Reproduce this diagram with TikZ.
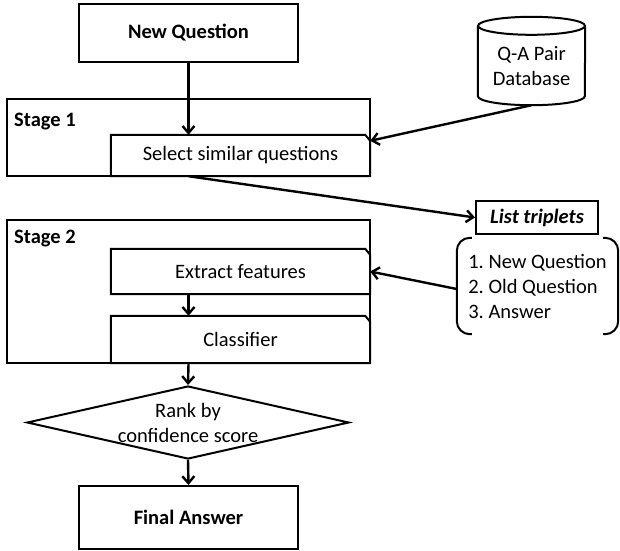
\documentclass[tikz,border=0pt]{standalone}
\usepackage{fontspec}
\setmainfont{Carlito}
\usetikzlibrary{arrows.meta,shapes.geometric,calc}

\begin{document}
\frenchspacing
\begin{tikzpicture}[x=1pt,y=-1pt,
  every node/.style={font=\fontsize{20.5}{25}\selectfont},
  box/.style={draw, line width=2pt, inner sep=0pt},
  boldtext/.style={font=\fontsize{20.5}{25}\selectfont\bfseries},
  tabbox/.style={inner sep=0pt, minimum width=259pt},
  stagelbl/.style={boldtext, inner sep=0pt, anchor=base west},
  outline/.style={line width=2pt},
  link/.style={line width=2.4pt, -{Straight Barb[length=7pt,width=12pt]}},
]
\useasboundingbox (0,0) rectangle (620,550);

% top input
\node[box, boldtext, minimum width=219pt, minimum height=58pt] (nq) at (188.5,33) {New Question};

% stage frames
\node[box, minimum width=363pt, minimum height=77pt] (stage1) at (188.5,137.5) {};
\node[box, minimum width=363pt, minimum height=143pt] (stage2) at (188.5,291.5) {};
\node[stagelbl] (s1lbl) at ($(stage1.north west)+(8,28)$) {Stage 1};
\node[stagelbl] (s2lbl) at ($(stage2.north west)+(8,24)$) {Stage 2};

% processing steps (tab-shaped boxes)
\node[tabbox, minimum height=41pt] (select) at (240.5,155.5) {Select similar questions};
\node[tabbox, minimum height=45pt] (extract) at (240.5,271.5) {Extract features};
\node[tabbox, minimum height=47pt] (classifier) at (240.5,339.5) {Classifier};
\foreach \n in {select,extract,classifier}
  \draw[outline] (\n.south west) -- (\n.north west) -- ([xshift=-5pt]\n.north east)
    -- ([yshift=-6pt]\n.north east) -- (\n.south east) -- cycle;

% database cylinder
\node[minimum width=107pt, minimum height=88pt, inner sep=0pt,
      label={[align=center,yshift=-5.5pt]center:{Q-A Pair\\Database}}] (db) at (531.5,61) {};
\draw[outline] ($(db.north)+(0,9)$) ellipse [x radius=53.5pt, y radius=9pt];
\draw[outline] ($(db.north west)+(0,9)$) -- ($(db.south west)+(0,-9)$)
  arc[start angle=180, end angle=360, x radius=53.5pt, y radius=9pt]
  -- ($(db.north east)+(0,9)$);

% triplet list
\node[box, font=\fontsize{20.5}{25}\selectfont\bfseries\itshape,
      minimum width=122pt, minimum height=33pt] (list) at (537,217.5) {List triplets};
\node[minimum width=161pt, minimum height=96pt, inner sep=0pt, align=left] (items) at (537.5,286)
  {1. New Question\\2. Old Question\\3. Answer};
\draw[outline, rounded corners=13pt] ([xshift=15pt]items.north west) -- (items.north west)
  -- (items.south west) -- ([xshift=15pt]items.south west);
\draw[outline, rounded corners=13pt] ([xshift=-15pt]items.north east) -- (items.north east)
  -- (items.south east) -- ([xshift=-15pt]items.south east);

% ranking and output
\node[draw, diamond, line width=2pt, minimum width=322pt, minimum height=73pt, inner sep=0pt,
      label={[align=center]center:{Rank by\\confidence score}}] (rank) at (188,422.5) {};
\node[box, boldtext, minimum width=219pt, minimum height=63pt] (final) at (188.5,517.5) {Final Answer};

% connectors
\draw[link] (nq.south) -- (nq |- select.north);
\draw[link] (db.south) -- ([yshift=-6pt]select.north east);
\draw[link] (nq |- select.south) -- (list.west);
\draw[link] ($(items.west)+(0,3)$) -- (extract.east);
\draw[link] (nq |- extract.south) -- (nq |- classifier.north);
\draw[link] (nq |- stage2.south) -- (rank.north);
\draw[link] (rank.south) -- (final.north);
\end{tikzpicture}
\end{document}
